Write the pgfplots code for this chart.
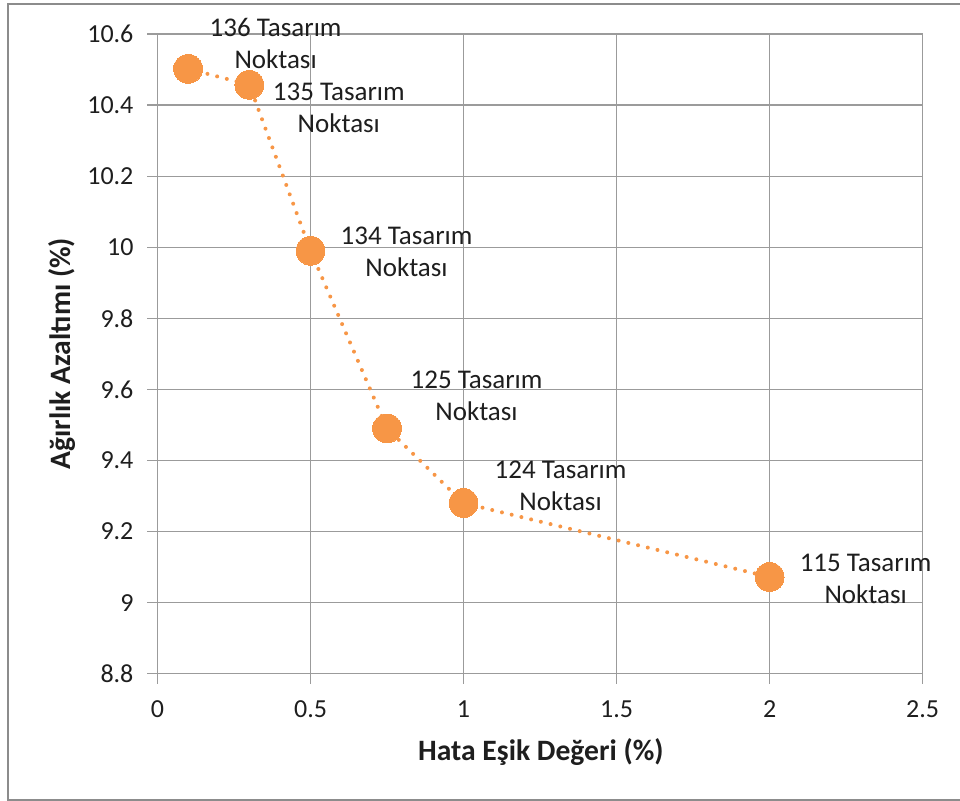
\documentclass[border=0pt]{standalone}
\usepackage{pgfplots}
\pgfplotsset{compat=1.18}
\usepackage{fontspec}
\setmainfont{Carlito}

\definecolor{ptorange}{HTML}{F79646}
\definecolor{gridc}{RGB}{155,155,155}
\definecolor{framec}{RGB}{140,140,140}
\definecolor{txt}{RGB}{30,30,30}

\begin{document}
\begin{tikzpicture}[x=1pt,y=1pt]
\path[use as bounding box] (0,0) rectangle (480,400.5);
% chart frame
\draw[framec, line width=0.9pt] (480,398.4) -- (4,398.4) -- (4,0.6) -- (480,0.6);

\begin{axis}[
  at={(78.75pt,63.65pt)}, anchor=south west,
  scale only axis, width=382.6pt, height=319.85pt,
  xmin=0, xmax=2.5, ymin=8.8, ymax=10.6,
  xtick={0,0.5,1,1.5,2,2.5},
  ytick={8.8,9,9.2,9.4,9.6,9.8,10,10.2,10.4,10.6},
  grid=major,
  major grid style={gridc, line width=0.6pt},
  axis line style={gridc, line width=0.6pt},
  tick style={gridc, line width=0.6pt},
  major tick length=5pt, tick align=outside,
  xtick pos=bottom, ytick pos=left,
  /pgf/number format/assume math mode=true,
  ticklabel style={font=\fontsize{13}{15}\selectfont, text=txt},
  xticklabel style={yshift=-5pt},
  yticklabel style={xshift=-3.5pt},
  xlabel={Hata Eşik Değeri (\%)},
  ylabel={Ağırlık Azaltımı (\%)},
  label style={font=\bfseries\fontsize{14.8}{17}\selectfont, text=txt},
  xlabel style={at={(axis description cs:0.501,-0.1224)}, anchor=center},
  ylabel style={at={(axis description cs:-0.1248,0.5)}, anchor=center},
  clip=false,
]
\addplot[ptorange, line width=2pt, dash pattern=on 0pt off 5pt, line cap=round,
  mark=*, mark size=7.2pt,
  mark options={solid, fill=ptorange, draw=ptorange, line width=0pt}]
  coordinates {
    (0.1,10.502) (0.3,10.457) (0.5,9.99) (0.75,9.49) (1.0,9.28) (2.0,9.072)
  };

\begin{scope}[every node/.style={align=center, text=txt,
    font=\fontsize{13.5}{16}\selectfont}]
\node at ([shift={(43.75pt,12.75pt)}]axis cs:0.1,10.502) {136 Tasarım\\Noktası};
\node at ([shift={(44.75pt,-11.75pt)}]axis cs:0.3,10.457) {135 Tasarım\\Noktası};
\node at ([shift={(48pt,-0.5pt)}]axis cs:0.5,9.99) {134 Tasarım\\Noktası};
\node at ([shift={(44.75pt,16.5pt)}]axis cs:0.75,9.49) {125 Tasarım\\Noktası};
\node at ([shift={(48.5pt,8.5pt)}]axis cs:1.0,9.28) {124 Tasarım\\Noktası};
\node at ([shift={(48pt,-0.75pt)}]axis cs:2.0,9.072) {115 Tasarım\\Noktası};
\end{scope}
\end{axis}
\end{tikzpicture}
\end{document}
